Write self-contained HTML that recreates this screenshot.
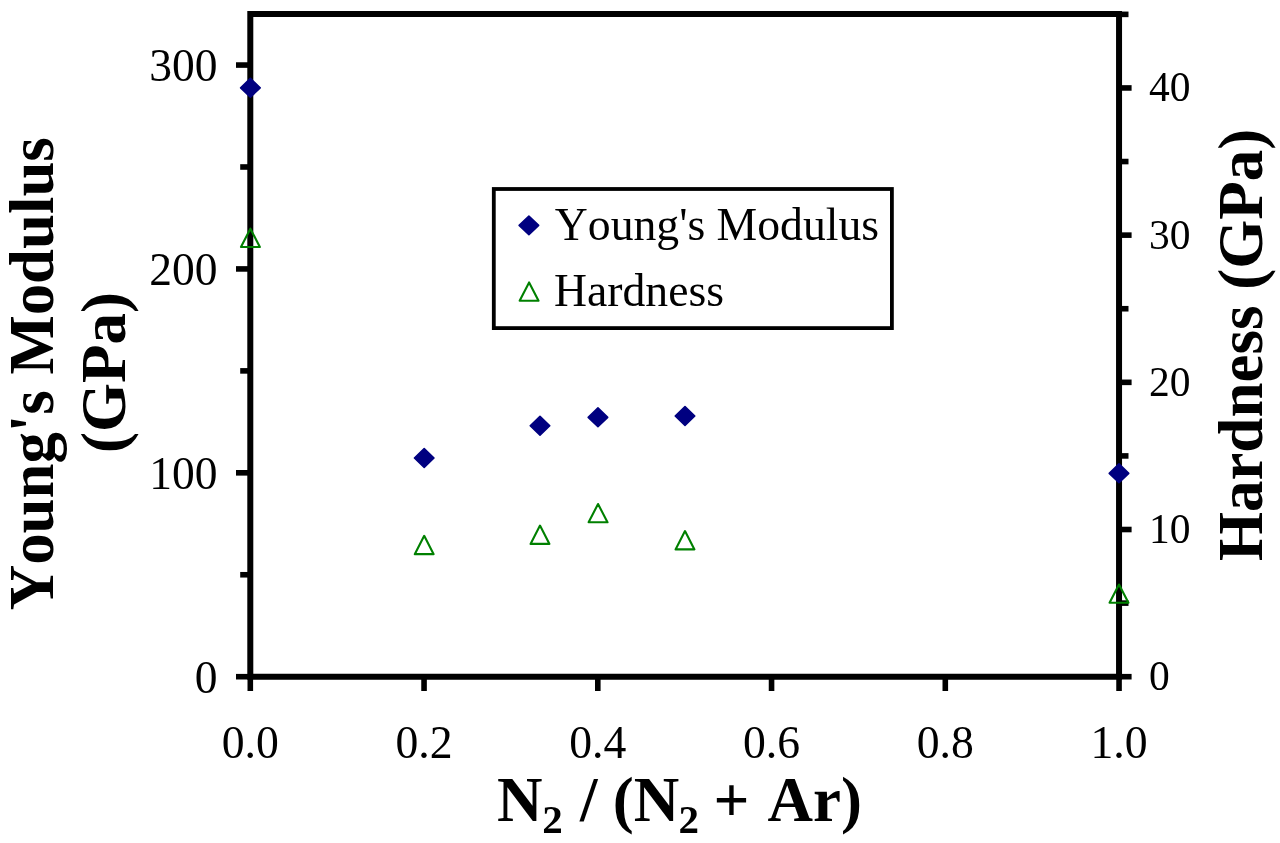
<!DOCTYPE html>
<html><head><meta charset="utf-8"><style>
html,body{margin:0;padding:0;background:#fff;}
svg{display:block;will-change:transform;}
text{font-family:"Liberation Serif",serif;fill:#000;font-kerning:none;}
</style></head><body>
<svg width="1280" height="843" viewBox="0 0 1280 843">
<rect width="1280" height="843" fill="#fff"/>
<path d="M250.3,676.7 L250.3,14 L1119.05,14 L1119.05,676.7 Z" fill="none" stroke="#000" stroke-width="6" stroke-linejoin="miter"/>
<line x1="236" y1="676.70" x2="250.3" y2="676.70" stroke="#000" stroke-width="5.6"/>
<line x1="240.2" y1="574.76" x2="250.3" y2="574.76" stroke="#000" stroke-width="5.6"/>
<line x1="236" y1="472.82" x2="250.3" y2="472.82" stroke="#000" stroke-width="5.6"/>
<line x1="240.2" y1="370.88" x2="250.3" y2="370.88" stroke="#000" stroke-width="5.6"/>
<line x1="236" y1="268.93" x2="250.3" y2="268.93" stroke="#000" stroke-width="5.6"/>
<line x1="240.2" y1="166.99" x2="250.3" y2="166.99" stroke="#000" stroke-width="5.6"/>
<line x1="236" y1="65.05" x2="250.3" y2="65.05" stroke="#000" stroke-width="5.6"/>
<line x1="1119.05" y1="676.70" x2="1131.6" y2="676.70" stroke="#000" stroke-width="5.6"/>
<line x1="1119.05" y1="603.11" x2="1128.5" y2="603.11" stroke="#000" stroke-width="5.6"/>
<line x1="1119.05" y1="529.51" x2="1131.6" y2="529.51" stroke="#000" stroke-width="5.6"/>
<line x1="1119.05" y1="455.92" x2="1128.5" y2="455.92" stroke="#000" stroke-width="5.6"/>
<line x1="1119.05" y1="382.33" x2="1131.6" y2="382.33" stroke="#000" stroke-width="5.6"/>
<line x1="1119.05" y1="308.73" x2="1128.5" y2="308.73" stroke="#000" stroke-width="5.6"/>
<line x1="1119.05" y1="235.14" x2="1131.6" y2="235.14" stroke="#000" stroke-width="5.6"/>
<line x1="1119.05" y1="161.54" x2="1128.5" y2="161.54" stroke="#000" stroke-width="5.6"/>
<line x1="1119.05" y1="87.95" x2="1131.6" y2="87.95" stroke="#000" stroke-width="5.6"/>
<line x1="1119.05" y1="14.36" x2="1128.5" y2="14.36" stroke="#000" stroke-width="5.6"/>
<line x1="250.30" y1="676.7" x2="250.30" y2="691" stroke="#000" stroke-width="5.6"/>
<line x1="424.05" y1="676.7" x2="424.05" y2="691" stroke="#000" stroke-width="5.6"/>
<line x1="597.80" y1="676.7" x2="597.80" y2="691" stroke="#000" stroke-width="5.6"/>
<line x1="771.55" y1="676.7" x2="771.55" y2="691" stroke="#000" stroke-width="5.6"/>
<line x1="945.30" y1="676.7" x2="945.30" y2="691" stroke="#000" stroke-width="5.6"/>
<line x1="1119.05" y1="676.7" x2="1119.05" y2="691" stroke="#000" stroke-width="5.6"/>
<text x="217.5" y="692.70" font-size="45.5" text-anchor="end">0</text>
<text x="217.5" y="488.82" font-size="45.5" text-anchor="end">100</text>
<text x="217.5" y="284.93" font-size="45.5" text-anchor="end">200</text>
<text x="217.5" y="81.05" font-size="45.5" text-anchor="end">300</text>
<text x="1149" y="690.10" font-size="41.5">0</text>
<text x="1149" y="542.91" font-size="41.5">10</text>
<text x="1149" y="395.73" font-size="41.5">20</text>
<text x="1149" y="248.54" font-size="41.5">30</text>
<text x="1149" y="101.35" font-size="41.5">40</text>
<text x="250.30" y="758.4" font-size="45.7" text-anchor="middle">0.0</text>
<text x="424.05" y="758.4" font-size="45.7" text-anchor="middle">0.2</text>
<text x="597.80" y="758.4" font-size="45.7" text-anchor="middle">0.4</text>
<text x="771.55" y="758.4" font-size="45.7" text-anchor="middle">0.6</text>
<text x="945.30" y="758.4" font-size="45.7" text-anchor="middle">0.8</text>
<text x="1119.05" y="758.4" font-size="45.7" text-anchor="middle">1.0</text>
<path d="M250.4,228.65 L259.85,246.95 L240.95,246.95 Z" fill="none" stroke="#008000" stroke-width="2.1" stroke-linejoin="round"/>
<path d="M424.2,535.85 L433.65,554.15 L414.75,554.15 Z" fill="none" stroke="#008000" stroke-width="2.1" stroke-linejoin="round"/>
<path d="M540,525.60 L549.45,543.90 L530.55,543.90 Z" fill="none" stroke="#008000" stroke-width="2.1" stroke-linejoin="round"/>
<path d="M598.05,504.00 L607.50,522.30 L588.60,522.30 Z" fill="none" stroke="#008000" stroke-width="2.1" stroke-linejoin="round"/>
<path d="M685,531.10 L694.45,549.40 L675.55,549.40 Z" fill="none" stroke="#008000" stroke-width="2.1" stroke-linejoin="round"/>
<path d="M1119,584.50 L1128.45,602.80 L1109.55,602.80 Z" fill="none" stroke="#008000" stroke-width="2.1" stroke-linejoin="round"/>
<path d="M250.4,78.42 L260.18,87.8 L250.4,97.18 L240.62,87.8 Z" fill="#000080" stroke="#000080" stroke-width="1.6" stroke-linejoin="round"/>
<path d="M424.2,448.62 L433.98,458 L424.2,467.38 L414.42,458 Z" fill="#000080" stroke="#000080" stroke-width="1.6" stroke-linejoin="round"/>
<path d="M540,416.37 L549.78,425.75 L540,435.13 L530.22,425.75 Z" fill="#000080" stroke="#000080" stroke-width="1.6" stroke-linejoin="round"/>
<path d="M597.95,407.92 L607.73,417.3 L597.95,426.68 L588.17,417.3 Z" fill="#000080" stroke="#000080" stroke-width="1.6" stroke-linejoin="round"/>
<path d="M685,406.62 L694.78,416 L685,425.38 L675.22,416 Z" fill="#000080" stroke="#000080" stroke-width="1.6" stroke-linejoin="round"/>
<path d="M1119,463.92 L1128.78,473.3 L1119,482.68 L1109.22,473.3 Z" fill="#000080" stroke="#000080" stroke-width="1.6" stroke-linejoin="round"/>
<rect x="493.8" y="189" width="398.1" height="139.1" fill="#fff" stroke="#000" stroke-width="3.8"/>
<path d="M528.9,215.97 L538.68,225.3 L528.9,234.63 L519.12,225.3 Z" fill="#000080" stroke="#000080" stroke-width="1.6" stroke-linejoin="round"/>
<path d="M529.1,282.45 L538.55,300.75 L519.65,300.75 Z" fill="none" stroke="#008000" stroke-width="2.1" stroke-linejoin="round"/>
<text x="554.8" y="239.9" font-size="45.7">Young's Modulus</text>
<text x="554" y="305.9" font-size="45.7">Hardness</text>
<text transform="translate(53,373.7) rotate(-90)" font-size="62.8" font-weight="bold" text-anchor="middle">Young's Modulus</text>
<text transform="translate(125.2,372.5) rotate(-90)" font-size="63" font-weight="bold" text-anchor="middle">(GPa)</text>
<text transform="translate(1261.5,345.0) rotate(-90)" font-size="63" font-weight="bold" text-anchor="middle">Hardness (GPa)</text>
<text font-size="63" font-weight="bold" y="821.25"><tspan x="496.9">N</tspan><tspan x="542.3" y="832.6" font-size="41">2</tspan><tspan x="580" y="821.25">/</tspan><tspan x="612.8">(N</tspan><tspan x="678.5" y="832.6" font-size="41">2</tspan><tspan x="713.6" y="821.25">+</tspan><tspan x="767.5">Ar)</tspan></text>
</svg></body></html>
